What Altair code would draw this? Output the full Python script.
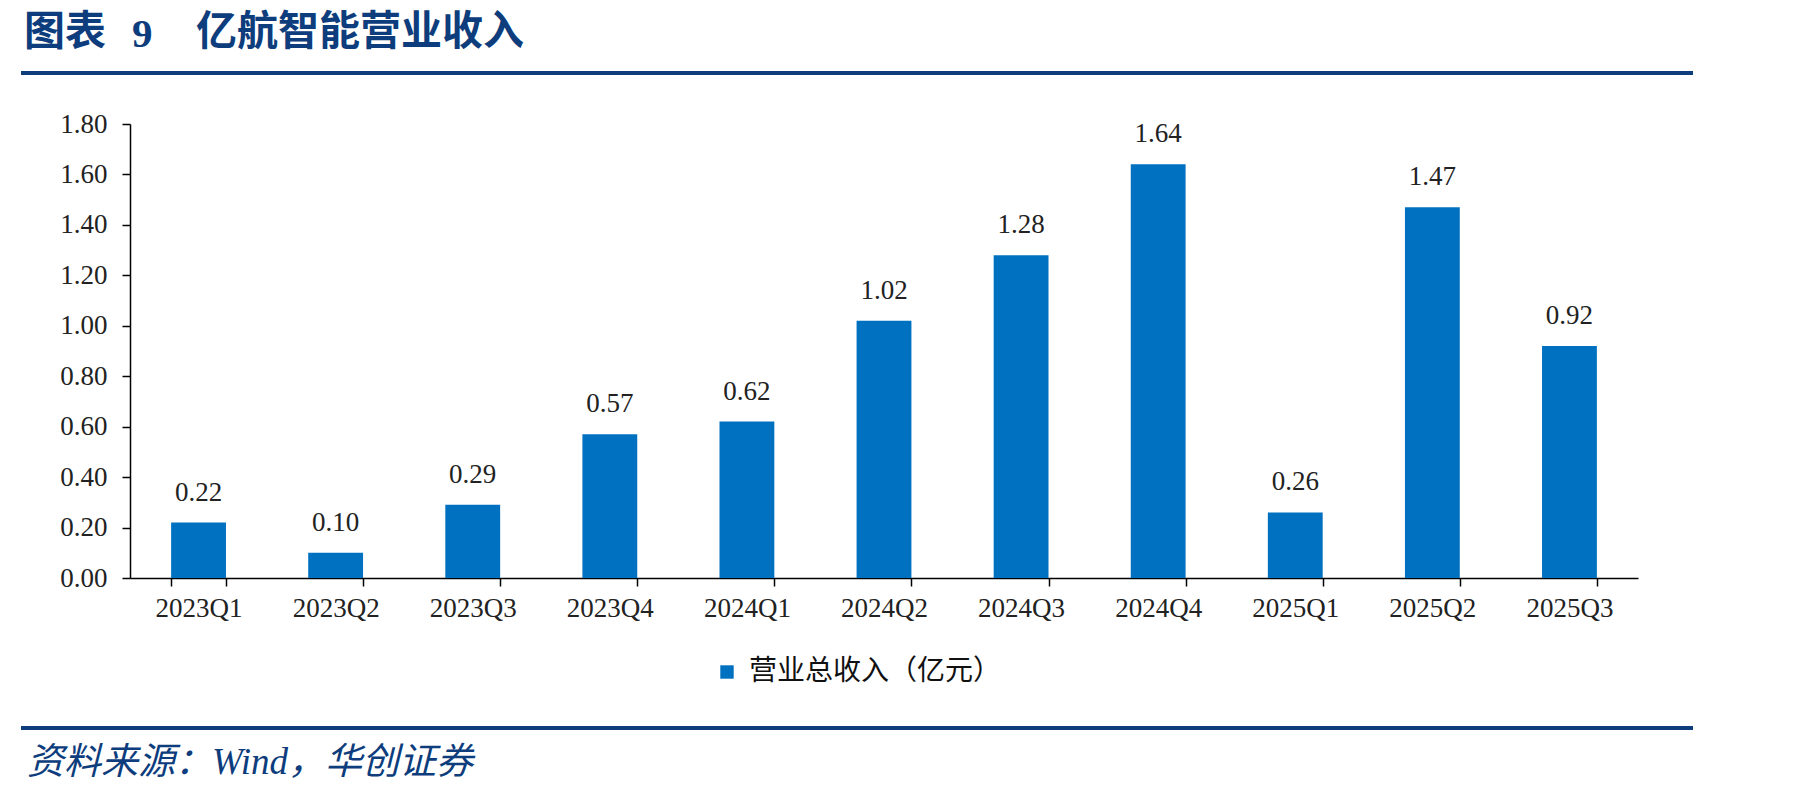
import altair as alt
import pandas as pd

quarters = [
    "2023Q1", "2023Q2", "2023Q3", "2023Q4",
    "2024Q1", "2024Q2", "2024Q3", "2024Q4",
    "2025Q1", "2025Q2", "2025Q3",
]
revenue = [0.22, 0.10, 0.29, 0.57, 0.62, 1.02, 1.28, 1.64, 0.26, 1.47, 0.92]
series_name = "营业总收入（亿元）"
y_ticks = [0.0, 0.2, 0.4, 0.6, 0.8, 1.0, 1.2, 1.4, 1.6, 1.8]

title_parts = ["图表", "9", "亿航智能营业收入"]
source_note = "资料来源：Wind，华创证券"

BLUE = "#0070C0"
NAVY = "#0D3D7C"
SERIF = "Liberation Serif"
CJK = "Noto Sans CJK SC"

df = pd.DataFrame({"quarter": quarters, "revenue": revenue, "series": series_name})
one = pd.DataFrame({"k": [0]})

base = alt.Chart(df)

bars = base.mark_bar(color=BLUE).encode(
    x=alt.X(
        "quarter:N",
        sort=quarters,
        title=None,
        scale=alt.Scale(paddingInner=0.6, paddingOuter=0.3),
        axis=alt.Axis(
            labelAngle=0,
            labelFont=SERIF,
            labelFontSize=27,
            labelColor="#222222",
            labelPadding=9,
            tickBand="extent",
            tickSize=8,
            tickColor="black",
            tickWidth=1.5,
            domainColor="black",
            domainWidth=1.5,
            grid=False,
        ),
    ),
    y=alt.Y(
        "revenue:Q",
        title=None,
        scale=alt.Scale(domain=[0, 1.8], nice=False),
        axis=alt.Axis(
            values=y_ticks,
            format=".2f",
            labelFont=SERIF,
            labelFontSize=27,
            labelColor="#222222",
            labelPadding=15,
            tickSize=8,
            tickColor="black",
            tickWidth=1.5,
            domainColor="black",
            domainWidth=1.5,
            grid=False,
        ),
    ),
    color=alt.Color(
        "series:N",
        scale=alt.Scale(domain=[series_name], range=[BLUE]),
        legend=alt.Legend(
            title=None,
            orient="none",
            legendX=583,
            legendY=534,
            symbolType="square",
            symbolSize=180,
            symbolStrokeWidth=0,
            labelFont=CJK,
            labelFontSize=28,
            labelColor="#111111",
            labelOffset=8,
            labelLimit=0,
            padding=0,
        ),
    ),
)

labels = base.mark_text(
    font=SERIF, fontSize=27, color="#222222", baseline="alphabetic", dy=-22
).encode(
    x=alt.X("quarter:N", sort=quarters),
    y="revenue:Q",
    text=alt.Text("revenue:Q", format=".2f"),
)

# header / footer decoration, placed in pixels relative to the plot origin
deco = alt.Chart(one)
title_font = f"{SERIF}, {CJK}"
title_style = dict(
    font=title_font, fontSize=41, fontWeight="bold",
    color=NAVY, align="left", baseline="middle",
)
title_a = deco.mark_text(text=title_parts[0], **title_style).encode(
    x=alt.value(-106), y=alt.value(-91)
)
title_b = deco.mark_text(text=title_parts[1], **title_style).encode(
    x=alt.value(2), y=alt.value(-89)
)
title_c = deco.mark_text(text=title_parts[2], **title_style).encode(
    x=alt.value(66), y=alt.value(-91)
)

top_rule = deco.mark_rule(color=NAVY, strokeWidth=4).encode(
    x=alt.value(-109), x2=alt.value(1563), y=alt.value(-51)
)
bottom_rule = deco.mark_rule(color=NAVY, strokeWidth=4).encode(
    x=alt.value(-109), x2=alt.value(1563), y=alt.value(604)
)
footer = deco.mark_text(
    text=source_note, font=title_font, fontSize=37, fontStyle="italic",
    color=NAVY, align="left", baseline="middle",
).encode(x=alt.value(-103), y=alt.value(639))

chart = (
    alt.layer(bars, labels, title_a, title_b, title_c, top_rule, bottom_rule, footer)
    .properties(
        width=1508,
        height=454,
        autosize=alt.AutoSizeParams(type="none"),
        padding={"left": 122, "top": 116, "right": 140, "bottom": 206},
        background="white",
    )
    .configure_view(stroke=None)
)

chart.save("out.html", embed_options={"renderer": "svg", "actions": False})
